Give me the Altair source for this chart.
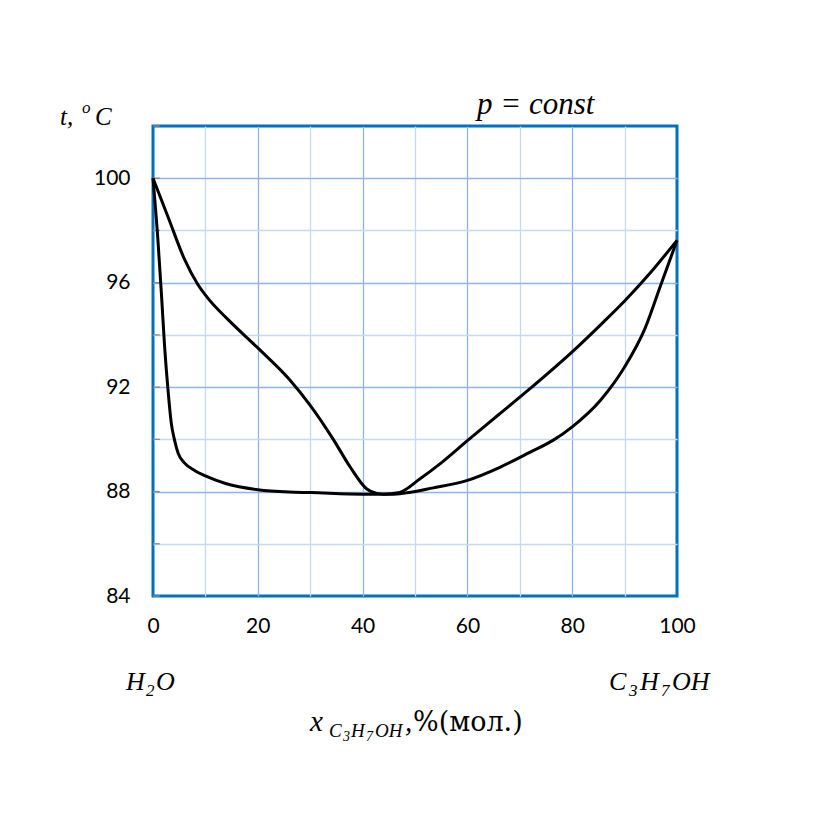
import altair as alt
import pandas as pd

# Vapour (dew) curve
vap_x = [0, 3, 6, 8.5, 10.5, 14, 20, 26, 30, 34.4, 37.6, 40.8, 42.7, 44, 47.1, 50.9, 55, 60, 66, 72, 80, 86, 90, 95, 100]
vap_t = [100, 98.45, 96.9, 95.95, 95.4, 94.65, 93.5, 92.3, 91.3, 90.0, 88.95, 88.1, 87.93, 87.9, 87.97, 88.48, 89.1, 89.95, 90.95, 91.95, 93.35, 94.5, 95.3, 96.4, 97.62]

# Liquid (boiling) curve
liq_x = [0, 0.95, 1.6, 2.2, 2.86, 3.5, 4.1, 4.8, 6, 8, 10, 14, 20, 26, 30, 40, 45, 47.1, 53.5, 60, 66.2, 71.9, 76.4, 80, 85.4, 90, 93.9, 96.8, 100]
liq_t = [100, 97.6, 95.6, 93.6, 91.9, 90.6, 89.98, 89.47, 89.1, 88.8, 88.6, 88.3, 88.07, 87.98, 87.96, 87.9, 87.9, 87.92, 88.14, 88.43, 88.93, 89.5, 89.97, 90.48, 91.5, 92.77, 94.25, 95.85, 97.62]

x_ticks = [0, 10, 20, 30, 40, 50, 60, 70, 80, 90, 100]
y_ticks = [84, 86, 88, 90, 92, 94, 96, 98, 100, 102]

df = pd.concat([
    pd.DataFrame({"x": vap_x, "t": vap_t, "s": "vapour"}),
    pd.DataFrame({"x": liq_x, "t": liq_t, "s": "liquid"}),
])
ticks_df = pd.DataFrame({"t": y_ticks, "x0": 0, "x1": 1.3})

MAJOR = "#8EB4E3"
MINOR = "#C6D9F1"
SERIF = "Liberation Serif"

xscale = alt.Scale(domain=[0, 100], nice=False, zero=False)
yscale = alt.Scale(domain=[84, 102], nice=False, zero=False)

xaxis = alt.Axis(
    values=x_ticks, title=None, ticks=False, domain=False, labelFlush=False,
    labelExpr="datum.value % 20 === 0 ? datum.label : ''",
    labelFont="Lato", labelFontSize=21, labelColor="black", labelPadding=19,
    grid=True,
    gridColor={"condition": {"test": "datum.value % 20 === 0", "value": MAJOR}, "value": MINOR},
    gridOpacity={"condition": {"test": "datum.value === 0 || datum.value === 100", "value": 0}, "value": 1},
    gridWidth=1.3,
)
yaxis = alt.Axis(
    values=y_ticks, title=None, ticks=False, domain=False, labelFlush=False,
    labelExpr="datum.value % 4 === 0 && datum.value < 102 ? datum.label : ''",
    labelFont="Lato", labelFontSize=21, labelColor="black", labelPadding=23,
    grid=True,
    gridColor={"condition": {"test": "datum.value % 4 === 0", "value": MAJOR}, "value": MINOR},
    gridOpacity={"condition": {"test": "datum.value === 84 || datum.value === 102", "value": 0}, "value": 1},
    gridWidth=1.3,
)

curves = alt.Chart(df).mark_line(color="black", strokeWidth=3, interpolate="monotone").encode(
    x=alt.X("x:Q", scale=xscale, axis=xaxis),
    y=alt.Y("t:Q", scale=yscale, axis=yaxis),
    detail="s:N",
    order="x:Q",
)

tick_marks = alt.Chart(ticks_df).mark_rule(color="#888888", strokeWidth=1.3).encode(
    x=alt.X("x0:Q", scale=xscale),
    x2="x1:Q",
    y=alt.Y("t:Q", scale=yscale),
)

OX, OY = 153, 126  # plot origin in page pixels


def label(text, px, py, size, italic=True, font=SERIF):
    return alt.Chart(pd.DataFrame({"a": [0]})).mark_text(
        text=text, font=font, fontSize=size, fontStyle="italic" if italic else "normal",
        align="left", baseline="alphabetic", color="black",
    ).encode(x=alt.value(px - OX), y=alt.value(py - OY))


texts = [
    # t, °C
    label("t,", 60, 125, 25),
    label("o", 82, 113, 17),
    label("C", 95, 125, 25),
    # p = const
    label("p = const", 477, 114, 31),
    # H2O
    label("H", 126, 690, 26),
    label("2", 146, 696, 17),
    label("O", 156, 690, 26),
    # C3H7OH
    label("C", 609, 690, 26),
    label("3", 629, 696, 17),
    label("H", 640, 690, 26),
    label("7", 661, 696, 17),
    label("OH", 672, 690, 26),
    # axis title x_{C3H7OH}, %(мол.)
    label("x", 310, 731, 29),
    label("C", 329, 737, 19),
    label("3", 343, 741, 14),
    label("H", 351, 737, 19),
    label("7", 366, 741, 14),
    label("OH", 375, 737, 19),
    label(",", 405, 731, 29),
    label("%(мол.)", 413, 731, 27, italic=False, font="DejaVu Serif"),
]

chart = alt.layer(tick_marks, curves, *texts).properties(
    width=524, height=470,
    autosize=alt.AutoSizeParams(type="none"),
    padding={"left": OX, "top": OY, "right": 157, "bottom": 224},
    background="white",
).configure_view(stroke="#0070C0", strokeWidth=3)

chart.save("out.html", embed_options={"renderer": "svg", "actions": False})
